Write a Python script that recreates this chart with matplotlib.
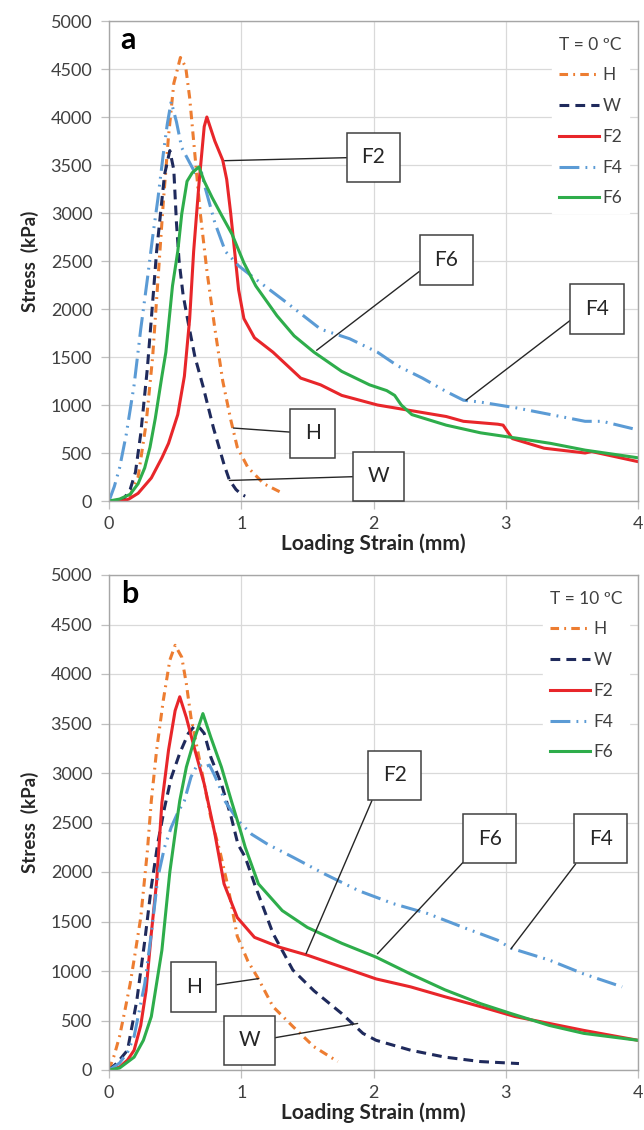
import matplotlib
matplotlib.use("Agg")
import matplotlib.pyplot as plt

plt.rcParams['font.family'] = ['Lato', 'DejaVu Sans']

# ---- panel a: T = 0 ºC ----
a_H_x = [0, 0.10, 0.16, 0.22, 0.28, 0.33, 0.37, 0.41, 0.45, 0.49, 0.54, 0.58, 0.61, 0.65, 0.69, 0.74, 0.80, 0.86, 0.92, 0.97, 1.05, 1.17, 1.30]
a_H_y = [0, 10, 60, 250, 800, 1500, 2300, 3100, 3800, 4350, 4620, 4520, 4200, 3600, 3000, 2400, 1800, 1250, 850, 560, 350, 180, 90]
a_W_x = [0.08, 0.11, 0.16, 0.20, 0.24, 0.29, 0.33, 0.36, 0.39, 0.42, 0.46, 0.49, 0.51, 0.53, 0.56, 0.60, 0.65, 0.71, 0.79, 0.87, 0.91, 0.96, 1.00, 1.03]
a_W_y = [0, 20, 120, 300, 700, 1380, 2070, 2600, 3000, 3400, 3650, 3450, 2900, 2500, 2150, 1850, 1500, 1200, 760, 380, 220, 120, 70, 50]
a_F2_x = [0, 0.10, 0.15, 0.22, 0.32, 0.40, 0.45, 0.52, 0.57, 0.61, 0.64, 0.68, 0.72, 0.74, 0.80, 0.86, 0.89, 0.92, 0.95, 0.98, 1.02, 1.10, 1.24, 1.45, 1.60, 1.76, 2.03, 2.29, 2.55, 2.68, 2.94, 2.98, 3.05, 3.29, 3.60, 3.65, 4.0]
a_F2_y = [0, 0, 20, 80, 240, 450, 600, 900, 1300, 1900, 2600, 3300, 3900, 4000, 3750, 3550, 3350, 3000, 2600, 2200, 1900, 1700, 1550, 1280, 1210, 1100, 1000, 940, 880, 830, 800, 790, 650, 550, 500, 515, 410]
a_F4_x = [0, 0.04, 0.08, 0.13, 0.19, 0.24, 0.29, 0.33, 0.37, 0.41, 0.44, 0.47, 0.51, 0.55, 0.60, 0.65, 0.70, 0.73, 0.80, 0.88, 0.98, 1.11, 1.34, 1.60, 1.82, 2.03, 2.18, 2.37, 2.55, 2.68, 2.81, 3.08, 3.34, 3.60, 3.73, 4.0]
a_F4_y = [0, 150, 345, 690, 1210, 1790, 2310, 2750, 3150, 3610, 3920, 4160, 3950, 3680, 3550, 3420, 3420, 3250, 2900, 2600, 2450, 2310, 2070, 1790, 1690, 1550, 1410, 1280, 1140, 1050, 1030, 970, 900, 830, 830, 740]
a_F6_x = [0, 0.08, 0.16, 0.22, 0.27, 0.31, 0.35, 0.40, 0.43, 0.48, 0.52, 0.55, 0.59, 0.63, 0.68, 0.72, 0.78, 0.85, 0.93, 1.02, 1.11, 1.27, 1.40, 1.55, 1.76, 1.97, 2.10, 2.16, 2.21, 2.29, 2.55, 2.81, 3.08, 3.34, 3.60, 4.0]
a_F6_y = [0, 20, 70, 180, 345, 560, 860, 1300, 1550, 2240, 2600, 2990, 3330, 3420, 3480, 3330, 3160, 2980, 2780, 2480, 2240, 1930, 1720, 1550, 1350, 1210, 1150, 1100, 1000, 900, 790, 710, 655, 600, 530, 450]

# ---- panel b: T = 10 ºC ----
b_H_x = [0, 0.04, 0.08, 0.12, 0.16, 0.20, 0.24, 0.29, 0.32, 0.36, 0.41, 0.46, 0.50, 0.55, 0.585, 0.62, 0.67, 0.72, 0.77, 0.84, 0.90, 0.97, 1.05, 1.13, 1.24, 1.39, 1.55, 1.73]
b_H_y = [0, 150, 340, 600, 870, 1200, 1540, 2210, 2720, 3230, 3730, 4140, 4290, 4170, 3900, 3560, 3230, 2890, 2550, 2200, 1850, 1350, 1100, 920, 640, 440, 235, 85]
b_W_x = [0, 0.06, 0.14, 0.21, 0.27, 0.32, 0.37, 0.42, 0.47, 0.535, 0.60, 0.65, 0.69, 0.72, 0.77, 0.85, 0.925, 0.975, 1.03, 1.10, 1.24, 1.39, 1.55, 1.76, 1.92, 2.02, 2.28, 2.54, 2.81, 3.10]
b_W_y = [0, 70, 200, 700, 1300, 1850, 2300, 2650, 2950, 3200, 3400, 3480, 3450, 3400, 3160, 2890, 2550, 2280, 2150, 1880, 1380, 1010, 800, 570, 370, 300, 200, 130, 85, 65]
b_F2_x = [0, 0.08, 0.14, 0.19, 0.24, 0.28, 0.32, 0.36, 0.40, 0.45, 0.50, 0.535, 0.585, 0.65, 0.72, 0.80, 0.87, 0.97, 1.10, 1.29, 1.50, 1.76, 2.02, 2.28, 2.54, 2.81, 3.07, 3.33, 3.59, 4.0]
b_F2_y = [0, 30, 100, 200, 450, 800, 1380, 1900, 2700, 3230, 3630, 3770, 3560, 3230, 2890, 2390, 1880, 1540, 1340, 1240, 1160, 1040, 920, 840, 740, 640, 540, 470, 400, 300]
b_F4_x = [0, 0.08, 0.14, 0.19, 0.27, 0.32, 0.37, 0.42, 0.47, 0.52, 0.57, 0.62, 0.67, 0.72, 0.76, 0.79, 0.83, 0.875, 0.975, 1.08, 1.2, 1.39, 1.63, 1.89, 2.15, 2.41, 2.68, 2.94, 3.04, 3.33, 3.59, 3.88]
b_F4_y = [0, 70, 180, 340, 870, 1380, 1950, 2250, 2450, 2600, 2720, 2960, 3090, 3060, 3080, 3000, 2880, 2720, 2520, 2380, 2280, 2150, 1980, 1810, 1680, 1580, 1440, 1310, 1230, 1110, 970, 840]
b_F6_x = [0, 0.08, 0.19, 0.26, 0.32, 0.40, 0.46, 0.50, 0.535, 0.585, 0.65, 0.71, 0.77, 0.85, 0.925, 1.0, 1.03, 1.13, 1.31, 1.50, 1.76, 2.02, 2.28, 2.54, 2.81, 3.04, 3.33, 3.59, 4.0]
b_F6_y = [0, 20, 130, 300, 540, 1210, 2000, 2390, 2720, 3060, 3360, 3600, 3360, 3060, 2720, 2390, 2250, 1880, 1610, 1440, 1280, 1140, 970, 810, 670, 570, 450, 370, 300]

labels = ['H', 'W', 'F2', 'F4', 'F6']
colors = ['#ED7D31', '#1F2A5C', '#E8262A', '#5B9BD5', '#2EAD4B']
styles = [(0, (2.8, 1.7, 0.6, 1.7)), (0, (3.2, 2.0)), '-', (0, (6.5, 2.0, 0.6, 2.0, 0.6, 2.0)), '-']

# box label, box centre, point on curve, attach point on box
a_notes = [('F2', (2.0, 3580), (0.875, 3545), (0, 0.5)),
           ('F6', (2.55, 2511), (1.57, 1570), (0, 0.5)),
           ('F4', (3.69, 2000), (2.70, 1050), (0, 0.5)),
           ('H', (1.54, 707), (0.94, 760), (0, 0.5)),
           ('W', (2.04, 258), (0.91, 214), (0, 0.5))]
b_notes = [('H', (0.64, 839), (1.13, 923), (1, 0.5)),
           ('W', (1.06, 300), (1.88, 470), (1, 0.5)),
           ('F2', (2.16, 2975), (1.49, 1175), (0, 0.5)),
           ('F6', (2.88, 2335), (2.03, 1174), (0, 0.12)),
           ('F4', (3.72, 2335), (3.04, 1225), (0, 0.12))]

fig = plt.figure(figsize=(6.44, 11.3), dpi=100)
ax_a = fig.add_axes([109/644, 1 - 501/1130, 529/644, 480/1130])
ax_b = fig.add_axes([109/644, 1 - 1070/1130, 529/644, 495/1130])

panels = [
    (ax_a, 'a', 'T = 0 ºC', [(a_H_x, a_H_y), (a_W_x, a_W_y), (a_F2_x, a_F2_y), (a_F4_x, a_F4_y), (a_F6_x, a_F6_y)], a_notes),
    (ax_b, 'b', 'T = 10 ºC', [(b_H_x, b_H_y), (b_W_x, b_W_y), (b_F2_x, b_F2_y), (b_F4_x, b_F4_y), (b_F6_x, b_F6_y)], b_notes),
]

for ax, tag, title, series, notes in panels:
    for (x, y), lab, c, ls in zip(series, labels, colors, styles):
        ax.plot(x, y, color=c, linestyle=ls, lw=2.2, label=lab)

    ax.set_xlim(0, 4)
    ax.set_ylim(0, 5000)
    ax.set_xticks([0, 1, 2, 3, 4])
    ax.set_yticks(range(0, 5001, 500))
    ax.grid(True, color='#D9D9D9', lw=0.9)
    ax.set_axisbelow(True)
    for s in ax.spines.values():
        s.set_color('#A6A6A6')
        s.set_linewidth(1.0)
    ax.tick_params(colors='#BFBFBF', labelcolor='#404040', labelsize=13, length=6, width=0.9)
    ax.tick_params(axis='y', pad=6)
    ax.tick_params(axis='x', pad=5)
    ax.set_xlabel('Loading Strain (mm)', fontsize=15, fontweight='bold', color='#262626', labelpad=1)
    ax.set_ylabel('Stress  (kPa)', fontsize=13.5, fontweight='bold', color='#262626', labelpad=8)

    ax.text(0.022, 0.99, tag, transform=ax.transAxes, ha='left', va='top',
            fontsize=22, fontweight='bold', color='black')

    for txt, box, pt, rel in notes:
        ax.annotate(txt, xy=pt, xytext=box, ha='center', va='center',
                    fontsize=15, color='#262626',
                    bbox=dict(boxstyle='square,pad=0.7', fc='white', ec='#404040', lw=1.1),
                    arrowprops=dict(arrowstyle='-', color='#262626', lw=1.0,
                                    shrinkA=0, shrinkB=0, relpos=rel))

    leg = ax.legend(title=title, loc='upper right', fontsize=12.5, title_fontsize=12.5,
                    frameon=True, framealpha=1, edgecolor='white', fancybox=False,
                    handlelength=2.3, handletextpad=0.2, labelspacing=0.85,
                    borderaxespad=0.5, alignment='left')
    leg.get_title().set_color('#404040')
    for t in leg.get_texts():
        t.set_color('#404040')

fig.savefig('out.png', dpi=100)
